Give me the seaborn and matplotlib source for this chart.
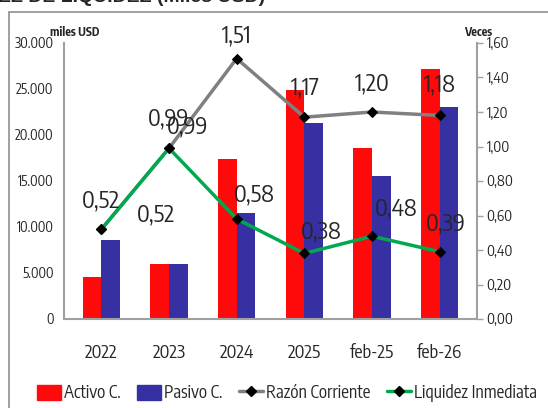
import numpy as np
import pandas as pd
import matplotlib
matplotlib.use("Agg")
import matplotlib.pyplot as plt
import seaborn as sns
from matplotlib.patches import Patch, Rectangle
from matplotlib.lines import Line2D
from matplotlib.ticker import FuncFormatter

# data
periodos = ["2022", "2023", "2024", "2025", "feb-25", "feb-26"]
activo_c = [4550, 6000, 17400, 24900, 18600, 27150]
pasivo_c = [8600, 6000, 11500, 21300, 15550, 23050]
razon_corriente = [0.52, 0.99, 1.51, 1.17, 1.20, 1.18]
liquidez_inmediata = [0.52, 0.99, 0.58, 0.38, 0.48, 0.39]

# label offsets in pixels (layout only)
off_razon = [(0, 29), (0, 30), (0, 23), (1, 30), (0, 29), (0, 31)]
off_liq = [(55, 15), (19, 22), (18, 24), (17, 22), (24, 28), (6, 28)]

sns.set_style("white")
plt.rcParams["font.family"] = ["Encode Sans Condensed", "Sofia Sans Condensed",
                               "Liberation Sans", "DejaVu Sans"]

rojo = "#FF0A0A"
azul = "#3730A3"
gris = "#808080"
verde = "#00A94F"

df = pd.DataFrame({
    "periodo": periodos * 2,
    "valor": activo_c + pasivo_c,
    "serie": ["Activo C."] * len(periodos) + ["Pasivo C."] * len(periodos),
})

fig = plt.figure(figsize=(5.48, 4.08), dpi=100)
ax = fig.add_axes([64 / 548, 89 / 408, 413 / 548, 276 / 408])

sns.barplot(data=df, x="periodo", y="valor", hue="serie", order=periodos,
            palette=[rojo, azul], width=0.55, saturation=1, linewidth=0,
            ax=ax, legend=False)
ax.set_ylim(0, 30000)
ax.set_yticks(np.arange(0, 30001, 5000))
ax.yaxis.set_major_formatter(FuncFormatter(lambda v, p: f"{int(v):,}".replace(",", ".")))
ax.set_xlabel("")
ax.set_ylabel("")
ax.tick_params(axis="y", labelsize=10, length=0, pad=7.5)
ax.tick_params(axis="x", labelsize=13, length=0, pad=18)
for s in ["left", "bottom"]:
    ax.spines[s].set_color("#A0A0A0")
    ax.spines[s].set_linewidth(1.5)
ax.spines["top"].set_visible(False)
ax.spines["right"].set_visible(False)

ax2 = ax.twinx()
x = np.arange(len(periodos))
sns.lineplot(x=x, y=razon_corriente, ax=ax2, color=gris, lw=2.5, marker="D",
             markersize=5, markerfacecolor="black", markeredgecolor="black")
sns.lineplot(x=x, y=liquidez_inmediata, ax=ax2, color=verde, lw=2.5, marker="D",
             markersize=5, markerfacecolor="black", markeredgecolor="black")
ax2.set_ylim(0, 1.6)
ax2.set_yticks(np.arange(0, 1.61, 0.2))
ax2.yaxis.set_major_formatter(FuncFormatter(lambda v, p: f"{v:.2f}".replace(".", ",")))
ax2.tick_params(axis="y", labelsize=10.5, length=4, width=1, color="#A0A0A0",
                direction="out", pad=3)
ax2.spines["right"].set_color("#A0A0A0")
ax2.spines["right"].set_linewidth(1.5)
for s in ["left", "top", "bottom"]:
    ax2.spines[s].set_visible(False)
ax2.set_xlim(ax.get_xlim())

for i, v in enumerate(razon_corriente):
    ax2.annotate(f"{v:.2f}".replace(".", ","), (i, v), xytext=off_razon[i],
                 textcoords="offset pixels", ha="center", va="center", fontsize=17)
for i, v in enumerate(liquidez_inmediata):
    ax2.annotate(f"{v:.2f}".replace(".", ","), (i, v), xytext=off_liq[i],
                 textcoords="offset pixels", ha="center", va="center", fontsize=17)

fig.text(50 / 548, 1 - 32 / 408, "miles USD", fontsize=8.5, fontweight="bold",
         ha="left", va="center")
fig.text(464 / 548, 1 - 33 / 408, "Veces", fontsize=8.5, fontweight="bold",
         ha="left", va="center")

# title cut off at the top of the picture
fig.text(-2 / 548, 1.005, "EZ DE LIQUIDEZ (Miles USD)", fontsize=14, fontweight="bold",
         family=["Liberation Sans", "DejaVu Sans"], ha="left", va="center")

fig.patches.append(Rectangle((9 / 548, -0.1), 1.2, 0.1 + (1 - 12 / 408),
                             transform=fig.transFigure, fill=False,
                             edgecolor="#909090", lw=1.2))

handles = [
    Patch(facecolor=rojo, edgecolor=rojo),
    Patch(facecolor=azul, edgecolor=azul),
    Line2D([], [], color=gris, lw=2.5, marker="D", markersize=5,
           markerfacecolor="black", markeredgecolor="black"),
    Line2D([], [], color=verde, lw=2.5, marker="D", markersize=5,
           markerfacecolor="black", markeredgecolor="black"),
]
fig.legend(handles, ["Activo C.", "Pasivo C.", "Razón Corriente", "Liquidez Inmediata"],
           loc="center", bbox_to_anchor=(287 / 548, 1 - 393 / 408), ncol=4,
           frameon=False, fontsize=12.3, handlelength=1.4, handleheight=1.0,
           handletextpad=0.15, columnspacing=1.0, borderaxespad=0)

fig.savefig("out.png", dpi=100)
